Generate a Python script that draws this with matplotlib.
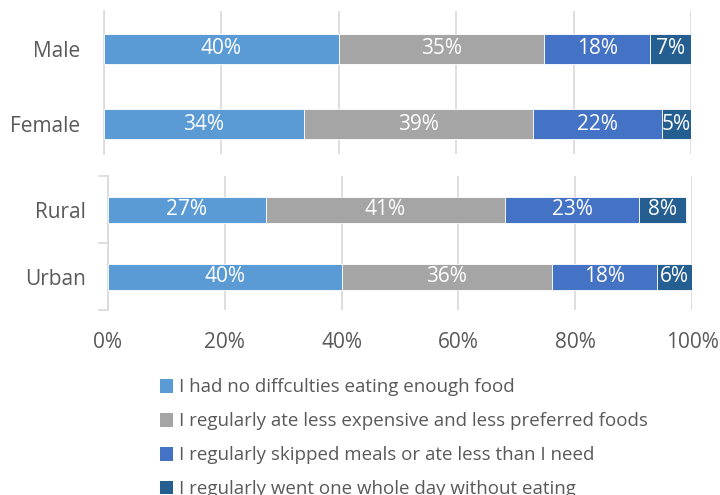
import matplotlib
matplotlib.use("Agg")
import matplotlib.pyplot as plt
import numpy as np
from matplotlib.patches import Patch

plt.rcParams['font.family'] = ['Open Sans', 'DejaVu Sans']

series_names = [
    "I had no diffculties eating enough food",
    "I regularly ate less expensive and less preferred foods",
    "I regularly skipped meals or ate less than I need",
    "I regularly went one whole day without eating",
]
colors = ["#5B9BD5", "#A5A5A5", "#4472C4", "#255E91"]

gender_labels = ["Male", "Female"]
gender_values = [
    [40, 34],
    [35, 39],
    [18, 22],
    [7, 5],
]

area_labels = ["Rural", "Urban"]
area_values = [
    [27, 40],
    [41, 36],
    [23, 18],
    [8, 6],
]

xticks = [0, 20, 40, 60, 80, 100]
xtick_labels = ["0%", "20%", "40%", "60%", "80%", "100%"]

W, H = 720, 495
fig = plt.figure(figsize=(W / 100, H / 100), dpi=100)

def px_axes(left, right, top, bottom):
    return fig.add_axes([left / W, 1 - bottom / H, (right - left) / W, (bottom - top) / H])

grid_c = "#D9D9D9"
text_c = "#595959"
FS = 15

def draw_panel(ax, labels, values, bar_h, ylim):
    y = np.arange(len(labels))
    left = np.zeros(len(labels))
    for vals, c in zip(values, colors):
        vals = np.array(vals, dtype=float)
        ax.barh(y, vals, left=left, height=bar_h, color=c, edgecolor="white",
                linewidth=0.6, zorder=3)
        for yi, l, v in zip(y, left, vals):
            ax.text(l + v / 2, yi, f"{int(v)}%", ha="center", va="center",
                    color="white", fontsize=FS, zorder=4)
        left += vals
    ax.set_xlim(0, 100)
    ax.set_ylim(*ylim)
    ax.set_yticks(y)
    ax.set_yticklabels(labels, fontsize=FS, color=text_c)
    ax.set_xticks(xticks)
    ax.grid(axis="x", color=grid_c, linewidth=1.2, zorder=0)
    for s in ["top", "right", "bottom"]:
        ax.spines[s].set_visible(False)
    ax.spines["left"].set_color(grid_c)
    ax.spines["left"].set_linewidth(1.2)
    ax.tick_params(axis="y", length=0, pad=17)

# Gender panel
ax1 = px_axes(104, 691, 11, 154)
draw_panel(ax1, gender_labels, gender_values, 0.397, (1.397, -0.497))
ax1.tick_params(axis="x", length=0, labelbottom=False)

# Area panel
ax2 = px_axes(108, 692, 176, 310)
draw_panel(ax2, area_labels, area_values, 0.388, (1.49, -0.507))
ax2.set_yticks([-0.5, 0.5, 1.5], minor=True)
ax2.tick_params(axis="y", which="minor", length=7, color=grid_c, width=1.2)
ax2.tick_params(axis="y", pad=16)
ax2.set_xticklabels(xtick_labels, fontsize=FS, color=text_c)
ax2.tick_params(axis="x", length=0, pad=16)

handles = [Patch(facecolor=c, edgecolor="none") for c in colors]
fig.legend(handles, series_names, loc="upper left",
           bbox_to_anchor=(152 / W, 1 - 371 / H), frameon=False,
           fontsize=13.5, labelcolor=text_c, handlelength=0.72, handleheight=0.72,
           handletextpad=0.3, labelspacing=0.85, borderaxespad=0)

fig.savefig("out.png", dpi=100)
